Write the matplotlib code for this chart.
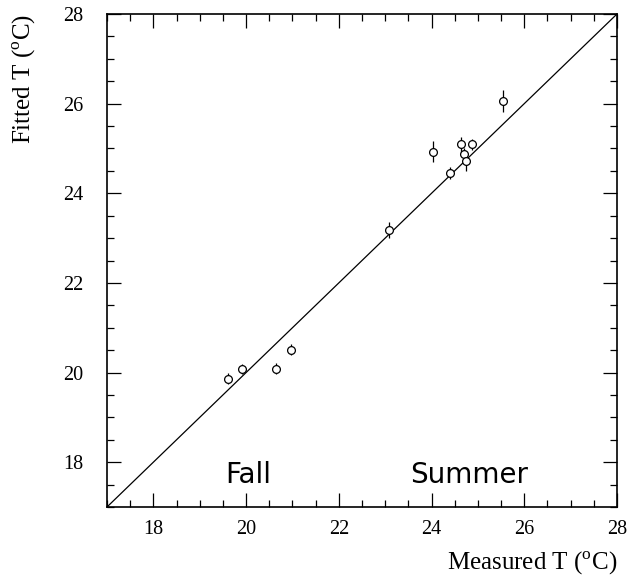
import matplotlib
matplotlib.use("Agg")
import matplotlib.pyplot as plt
from matplotlib.ticker import MultipleLocator

plt.rcParams["font.family"] = "Liberation Serif"
plt.rcParams["mathtext.fontset"] = "custom"
plt.rcParams["mathtext.rm"] = "Liberation Serif"

# measured vs fitted temperatures
measured = [19.60, 19.92, 20.65, 20.96, 23.08, 24.04, 24.39, 24.64, 24.69, 24.74, 24.87, 25.54]
fitted = [19.86, 20.08, 20.09, 20.51, 23.19, 24.93, 24.45, 25.09, 24.88, 24.71, 25.09, 26.06]
fit_err = [0.12, 0.12, 0.12, 0.12, 0.18, 0.24, 0.14, 0.17, 0.12, 0.22, 0.12, 0.24]
season_names = ["Fall", "Summer"]
season_x = [19.55, 23.53]

fig = plt.figure(figsize=(6.28, 5.81), dpi=100)
ax = fig.add_axes([107 / 628, 1 - 507 / 581, 510 / 628, 493 / 581])

ax.plot([17, 28], [17, 28], color="black", lw=0.9)
ax.errorbar(measured, fitted, yerr=fit_err, fmt="o", mfc="white", mec="black",
            ms=5.6, mew=0.9, ecolor="black", elinewidth=0.9, capsize=0)

for name, sx in zip(season_names, season_x):
    ax.text(sx, 17.53, name, fontsize=20, family="DejaVu Sans", ha="left", va="baseline")

ax.set_xlim(17, 28)
ax.set_ylim(17, 28)
ax.xaxis.set_major_locator(MultipleLocator(2))
ax.yaxis.set_major_locator(MultipleLocator(2))
ax.xaxis.set_minor_locator(MultipleLocator(0.5))
ax.yaxis.set_minor_locator(MultipleLocator(0.5))
ax.tick_params(which="both", direction="in", top=True, right=True, labelsize=14.5, width=0.9)
ax.tick_params(which="major", length=10)
ax.tick_params(which="minor", length=5)
ax.tick_params(axis="x", which="major", pad=9)
ax.tick_params(axis="y", which="major", pad=17)
ax.xaxis.set_ticks([18, 20, 22, 24, 26, 28])
ax.yaxis.set_ticks([18, 20, 22, 24, 26, 28])
for s in ax.spines.values():
    s.set_linewidth(1.2)

ax.set_xlabel(r"Measured T ($^{\rm o}$C)", fontsize=18, loc="right")
ax.set_ylabel(r"Fitted T ($^{\rm o}$C)", fontsize=18, loc="top")
ax.xaxis.set_label_coords(1.0, -0.088)
ax.yaxis.set_label_coords(-0.135, 1.0)

fig.savefig("out.png", dpi=100)
